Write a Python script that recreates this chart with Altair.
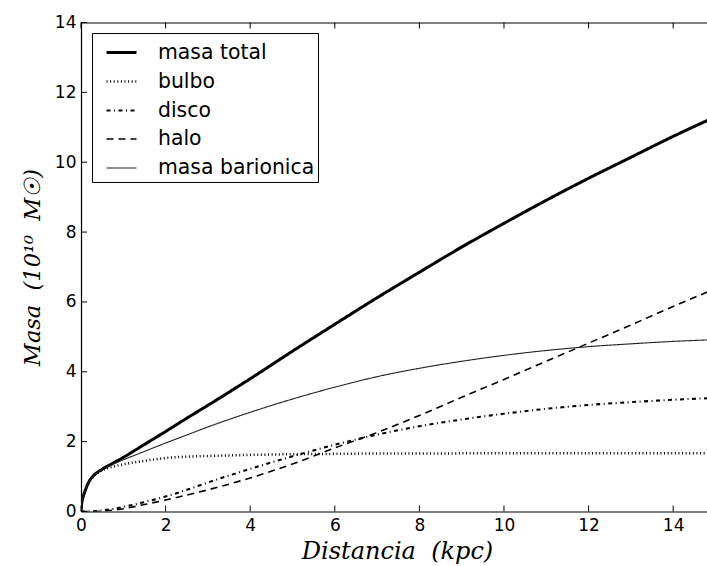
import altair as alt
import pandas as pd

# Distance (kpc)
distancia = [0, 0.02, 0.05, 0.1, 0.2, 0.3, 0.5, 0.75, 1, 1.5, 2, 2.5, 3, 4, 5, 6, 7, 8, 9, 10, 11, 12, 13, 14, 15]
# Mass (10^10 M_sun)
masa_total = [0, 0.26, 0.42, 0.6, 0.88, 1.03, 1.21, 1.38, 1.55, 1.92, 2.29, 2.67, 3.04, 3.8, 4.59, 5.36, 6.12, 6.85, 7.57, 8.25, 8.91, 9.54, 10.14, 10.74, 11.3]
bulbo = [0, 0.26, 0.42, 0.6, 0.87, 1.01, 1.18, 1.28, 1.35, 1.45, 1.53, 1.57, 1.59, 1.62, 1.64, 1.65, 1.66, 1.66, 1.665, 1.67, 1.67, 1.67, 1.67, 1.67, 1.67]
disco = [0, 0, 0, 0, 0.005, 0.01, 0.03, 0.07, 0.13, 0.27, 0.43, 0.62, 0.83, 1.22, 1.58, 1.91, 2.2, 2.44, 2.635, 2.8, 2.94, 3.05, 3.13, 3.2, 3.25]
halo = [0, 0, 0, 0, 0, 0, 0.01, 0.04, 0.08, 0.2, 0.33, 0.47, 0.62, 0.96, 1.36, 1.82, 2.26, 2.75, 3.27, 3.78, 4.3, 4.82, 5.34, 5.87, 6.38]
masa_barionica = [0, 0.26, 0.42, 0.6, 0.875, 1.02, 1.21, 1.35, 1.48, 1.72, 1.96, 2.19, 2.42, 2.84, 3.22, 3.56, 3.86, 4.1, 4.3, 4.47, 4.61, 4.72, 4.8, 4.87, 4.92]

series = ["masa total", "bulbo", "disco", "halo", "masa barionica"]
values = [masa_total, bulbo, disco, halo, masa_barionica]
tick_vals = [0, 2, 4, 6, 8, 10, 12, 14]

rows = []
for name, vals in zip(series, values):
    for r, m in zip(distancia, vals):
        rows.append({"r": r, "m": m, "serie": name})
df = pd.DataFrame(rows)
ticks_df = pd.DataFrame({"t": tick_vals})

W, H = 626, 489
TICK = 6
xscale = alt.Scale(domain=[0, 14.8], nice=False, zero=False)
yscale = alt.Scale(domain=[0, 14], nice=False)

legend = alt.Legend(
    title=None, orient="none", legendX=11, legendY=10.5,
    symbolType="stroke", symbolSize=900, symbolOffset=10,
    labelFont="DejaVu Sans", labelFontSize=20.4, labelColor="black",
    labelOffset=20, padding=3, rowPadding=2,
    strokeColor="black", fillColor="white", cornerRadius=0,
)

nb = "\u00a0"
lines = alt.Chart(df).mark_line(clip=True, interpolate="monotone").encode(
    x=alt.X("r:Q", scale=xscale, axis=alt.Axis(
        orient="bottom", values=tick_vals, ticks=False, tickSize=0, grid=False,
        labelFlush=False, labelPadding=6,
        title="Distancia" + nb * 2 + "(kpc)", titlePadding=6, titleX=316)),
    y=alt.Y("m:Q", scale=yscale, axis=alt.Axis(
        orient="left", values=tick_vals, ticks=False, tickSize=0, grid=False,
        labelFlush=False, labelPadding=5, titleFontSize=22.5,
        title="Masa" + nb * 2 + "(10¹⁰" + nb * 2 + "M☉)", titlePadding=10)),
    color=alt.Color("serie:N", scale=alt.Scale(domain=series, range=["black", "black", "black", "black", "#222222"]), legend=legend),
    strokeDash=alt.StrokeDash("serie:N", scale=alt.Scale(domain=series, range=[[1, 0], [1, 2.6], [4, 3.5, 1, 3.5], [7, 5], [1, 0]]), legend=legend),
    strokeWidth=alt.StrokeWidth("serie:N", scale=alt.Scale(domain=series, range=[3, 1.1, 1.2, 1.3, 1.3]), legend=legend),
)

top_frame = alt.Chart(df).mark_line(opacity=0).encode(
    x=alt.X("r:Q", scale=xscale, axis=alt.Axis(
        orient="bottom", offset=-H, values=tick_vals, labels=False, domain=True,
        ticks=False, grid=False, title=None)),
    y=alt.Y("m:Q", scale=yscale, axis=None),
)

base_ticks = alt.Chart(ticks_df).mark_rule(color="black", strokeWidth=1)
ticks_bottom = base_ticks.encode(
    x=alt.X("t:Q", scale=xscale, axis=None), y=alt.value(H), y2=alt.value(H - TICK))
ticks_top = base_ticks.encode(
    x=alt.X("t:Q", scale=xscale, axis=None), y=alt.value(0), y2=alt.value(TICK))
ticks_left = base_ticks.encode(
    y=alt.Y("t:Q", scale=yscale, axis=None), x=alt.value(0), x2=alt.value(TICK))

chart = alt.layer(lines, top_frame, ticks_bottom, ticks_top, ticks_left).resolve_axis(
    x="independent", y="independent"
).properties(
    width=W, height=H,
    autosize=alt.AutoSizeParams(type="none"),
    padding={"left": 81, "top": 22.5, "right": 0, "bottom": 54.5},
).configure_view(stroke=None).configure_axis(
    labelFont="DejaVu Sans", labelFontSize=17, labelColor="black",
    domainColor="black", domainWidth=1.2, tickColor="black", tickWidth=1,
    titleFont="DejaVu Serif", titleFontSize=24, titleFontStyle="italic",
    titleFontWeight="normal", titleColor="black",
)

chart.save("out.html", embed_options={"renderer": "svg", "actions": False})
